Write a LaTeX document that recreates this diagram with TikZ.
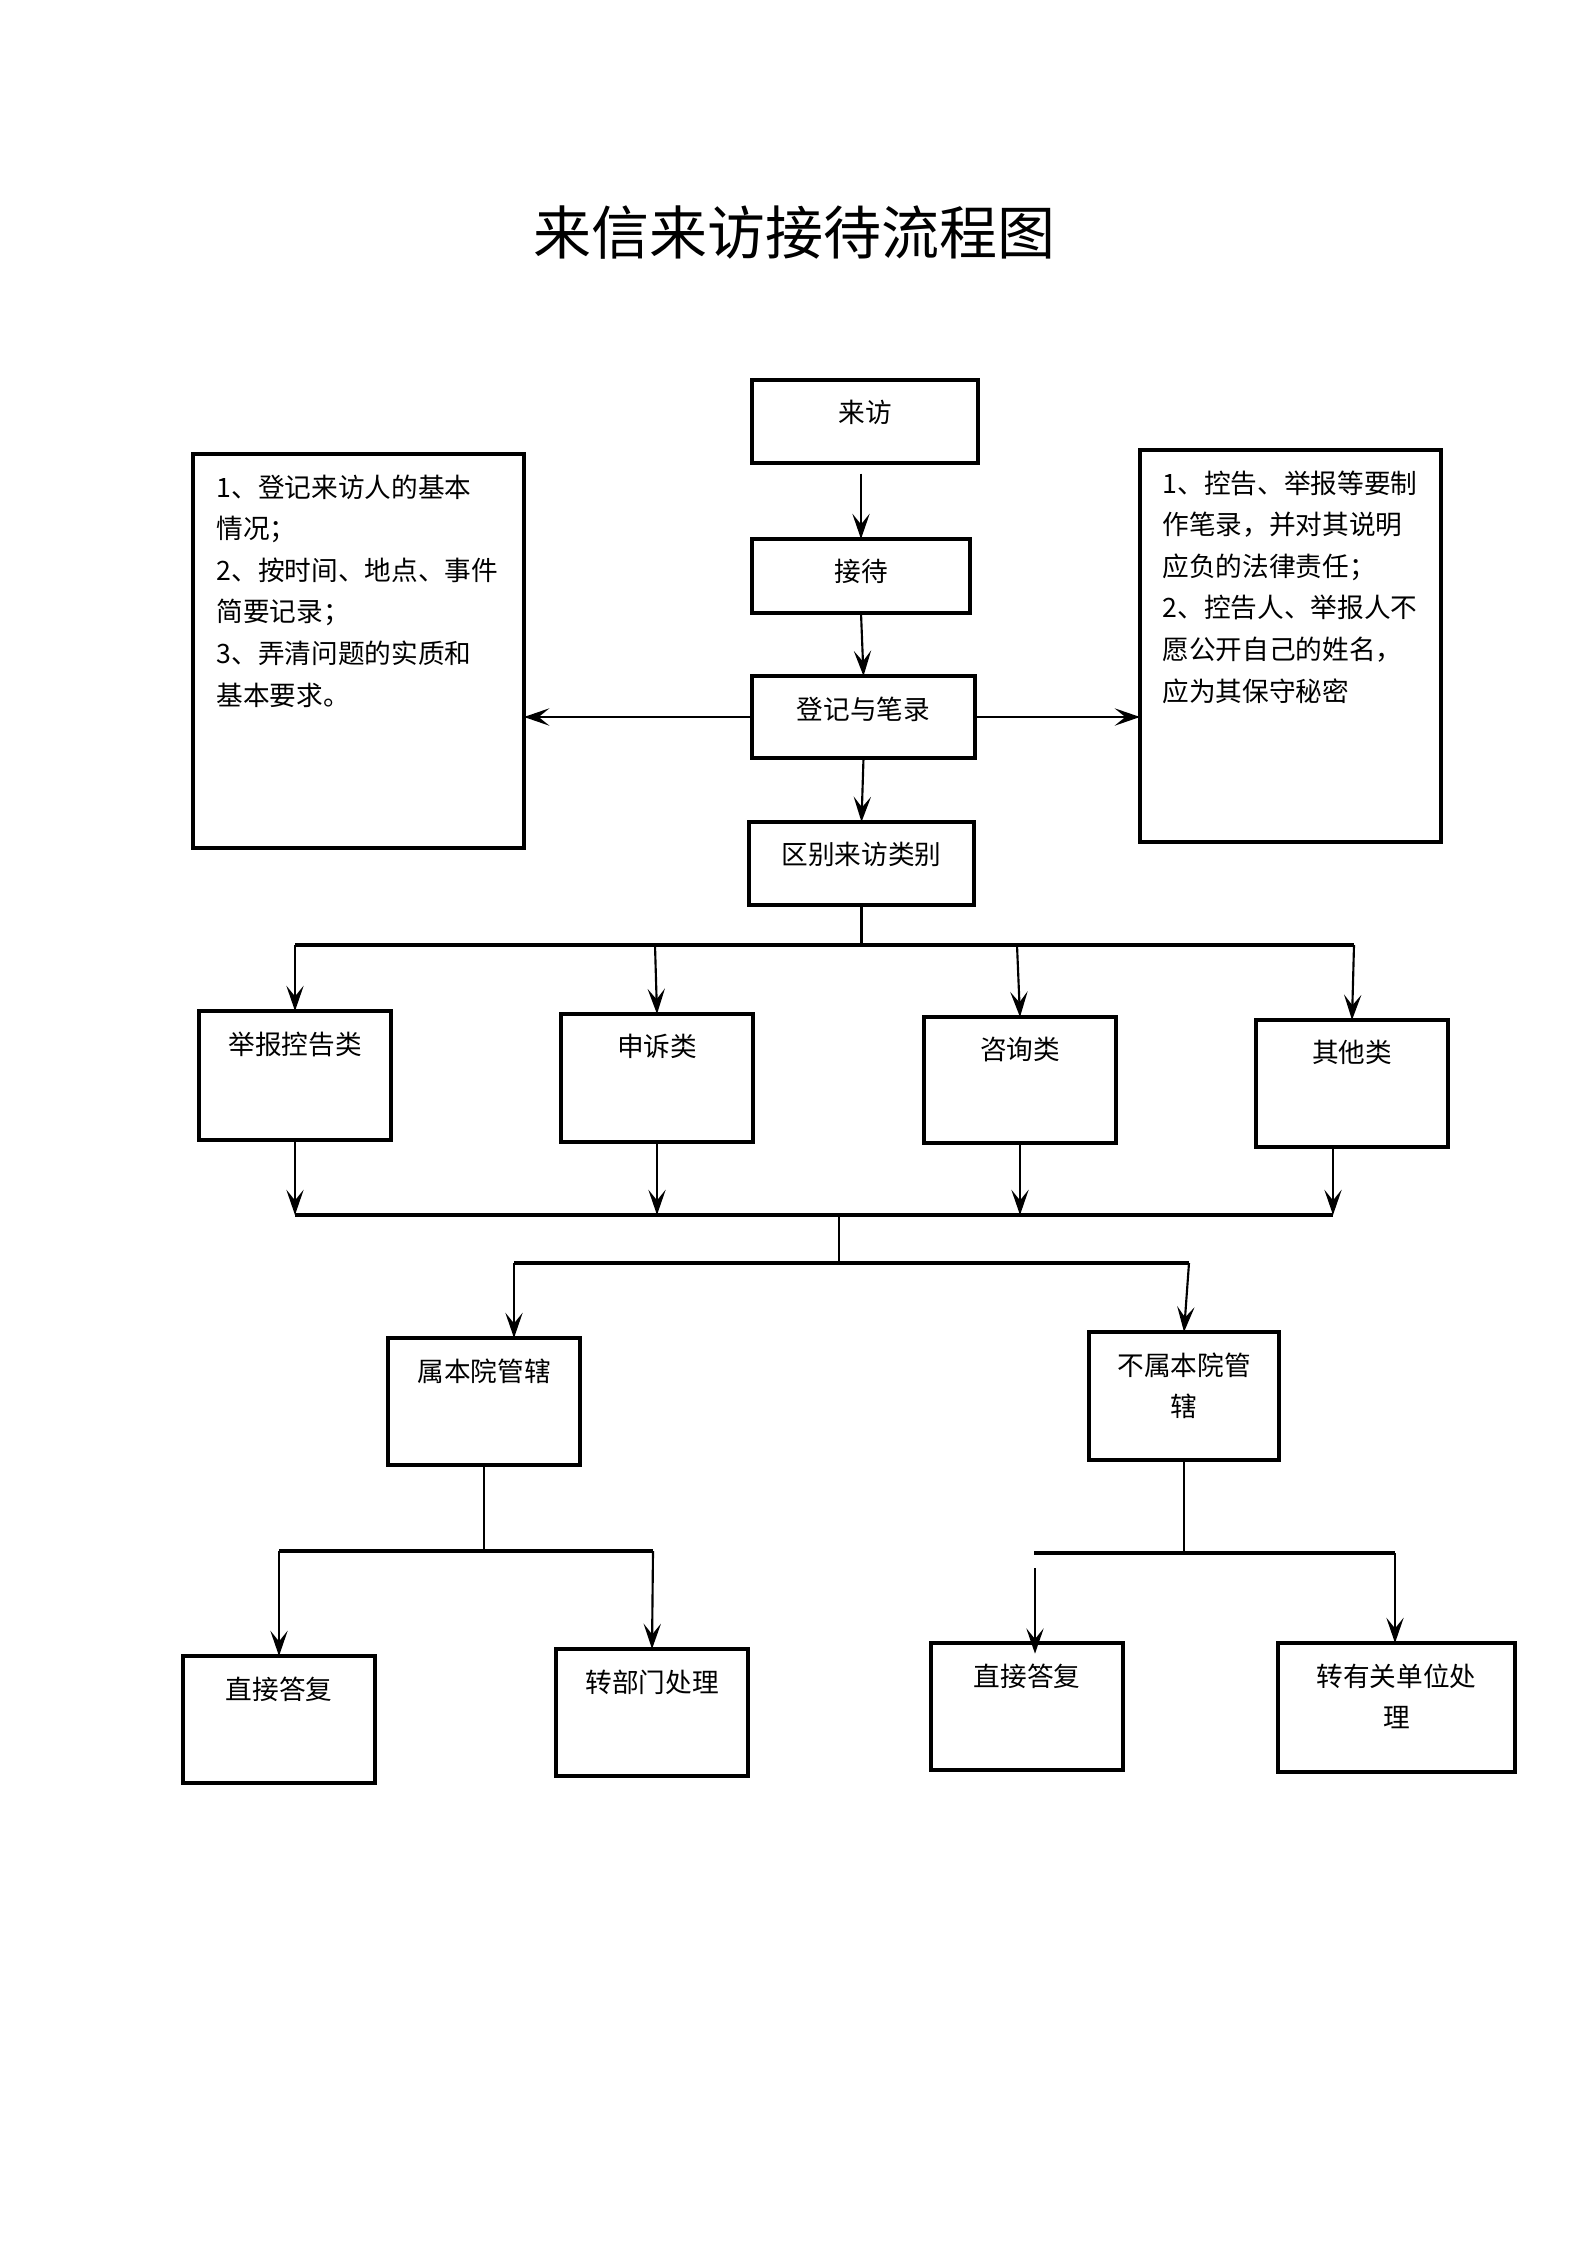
\documentclass[tikz,border=0pt]{standalone}
\usepackage{fontspec}
\setmainfont{Noto Sans CJK SC}
\usetikzlibrary{arrows.meta}
\tikzset{
  boxst/.style={draw, line width=1.5pt, inner sep=0pt, outer sep=0pt},
  txt/.style={inner sep=0pt, anchor=north, align=center, font=\fontsize{10}{15.5}\selectfont},
  sidetxt/.style={inner sep=0pt, anchor=north west, align=left, font=\fontsize{10}{15.6}\selectfont},
  arr/.style={line width=0.8pt, -{Stealth[length=9.5pt,width=6.5pt,inset=4pt]}},
  bus/.style={line width=1.2pt},
  ln/.style={line width=0.9pt},
}
\newcommand\plainbox[5]{%
  \pgfmathsetmacro\bw{(#4-#2)*0.375}%
  \pgfmathsetmacro\bh{(#5-#3)*0.375}%
  \node[boxst, minimum width=\bw pt, minimum height=\bh pt] (#1) at ({(#2+#4)/2},{(#3+#5)/2}) {};%
}
\newcommand\mybox[6]{%
  \plainbox{#1}{#2}{#3}{#4}{#5}%
  \node[txt] (#1t) at ({(#2+#4)/2},{#3+20}) {#6};%
}
\begin{document}
\begin{tikzpicture}[x=0.375pt,y=-0.375pt]
\path[use as bounding box, fill=white] (0,0) rectangle (1587,2245);

\node[font=\fontsize{21.75}{26}\selectfont, inner sep=0pt] (title) at (794,233) {来信来访接待流程图};

\mybox{laifang}{752}{380}{978}{463}{来访}
\mybox{jiedai}{752}{539}{970}{613}{接待}
\mybox{dengji}{752}{676}{975}{758}{登记与笔录}
\mybox{qubie}{749}{822}{974}{905}{区别来访类别}
\plainbox{leftbox}{193}{454}{524}{848}
\plainbox{rightbox}{1140}{450}{1441}{842}
\node[sidetxt] (lt) at (216,474) {1、登记来访人的基本\\情况；\\2、按时间、地点、事件\\简要记录；\\3、弄清问题的实质和\\基本要求。};
\node[sidetxt] (rt) at (1162,470) {1、控告、举报等要制\\作笔录，并对其说明\\应负的法律责任；\\2、控告人、举报人不\\愿公开自己的姓名，\\应为其保守秘密};

\mybox{jb}{199}{1011}{391}{1140}{举报控告类}
\mybox{ss}{561}{1014}{753}{1142}{申诉类}
\mybox{zx}{924}{1017}{1116}{1143}{咨询类}
\mybox{qt}{1256}{1020}{1448}{1147}{其他类}
\mybox{shu}{388}{1338}{580}{1465}{属本院管辖}
\mybox{bushu}{1089}{1332}{1279}{1460}{不属本院管\\辖}
\mybox{zja}{183}{1656}{375}{1783}{直接答复}
\mybox{zbm}{556}{1649}{748}{1776}{转部门处理}
\mybox{zjb}{931}{1643}{1123}{1770}{直接答复}
\mybox{zy}{1278}{1643}{1515}{1772}{转有关单位处\\理}

% main chain
\draw[arr] ([yshift=-4pt]jiedai.north |- laifang.south) -- (jiedai.north);
\draw[arr] (jiedai.south) -- (dengji.north);
\draw[arr] (dengji.south) -- (qubie.north);
\draw[arr, line width=1pt] (dengji.west) -- (dengji.west -| leftbox.east);
\draw[arr, line width=1pt] (dengji.east) -- (dengji.east -| rightbox.west);

% bus 1
\coordinate (b1l) at (295,945);
\coordinate (b1a) at (655,945);
\coordinate (b1b) at (1017,945);
\coordinate (b1r) at (1354,945);
\draw[ln] (qubie.south) -- (qubie.south |- b1l);
\draw[bus] (b1l) -- (b1r);
\draw[arr] (b1l) -- (b1l |- jb.north);
\draw[arr] (b1a) -- (ss.north);
\draw[arr] (b1b) -- (zx.north);
\draw[arr] (b1r) -- (qt.north);

% bus 2
\coordinate (b2l) at (295,1215);
\coordinate (b2m) at (839,1215);
\coordinate (b2r) at (1333,1215);
\draw[bus] (b2l) -- (b2r);
\draw[arr] (jb.south) -- (jb.south |- b2l);
\draw[arr] (ss.south) -- (ss.south |- b2l);
\draw[arr] (zx.south) -- (zx.south |- b2l);
\draw[arr] (qt.south -| b2r) -- (b2r);

% bus 3
\coordinate (b3l) at (514,1263);
\coordinate (b3r) at (1189,1263);
\draw[ln] (b2m) -- (b2m |- b3l);
\draw[bus] (b3l) -- (b3r);
\draw[arr] (b3l) -- (b3l |- shu.north);
\draw[arr] (b3r) -- (bushu.north);

% bus 4
\coordinate (b4l) at (279,1551);
\coordinate (b4r) at (653,1551);
\draw[ln] (shu.south) -- (shu.south |- b4l);
\draw[bus] (b4l) -- (b4r);
\draw[arr] (b4l) -- (zja.north);
\draw[arr] (b4r) -- (zbm.north);

% bus 5
\coordinate (b5l) at (1034,1553);
\coordinate (b5r) at (1395,1553);
\coordinate (a5s) at (1035,1568);
\draw[ln] (bushu.south) -- (bushu.south |- b5l);
\draw[bus] (b5l) -- (b5r);
\draw[arr] (a5s) -- ([yshift=-4pt]a5s |- zjb.north);
\draw[arr] (b5r) -- (b5r |- zy.north);
\end{tikzpicture}
\end{document}
